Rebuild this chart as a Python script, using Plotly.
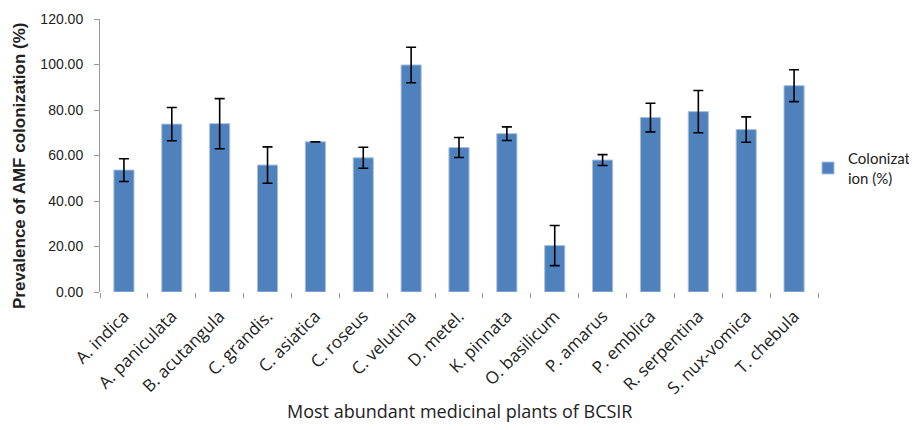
import plotly.graph_objects as go

plants = ["A. indica", "A. paniculata", "B. acutangula", "C. grandis.", "C. asiatica",
          "C. roseus", "C. velutina", "D. metel.", "K. pinnata", "O. basilicum",
          "P. amarus", "P. emblica", "R. serpentina", "S. nux-vomica", "T. chebula"]
colonization = [53.6, 73.8, 74.0, 55.8, 66.0, 59.0, 99.8, 63.5, 69.6, 20.4,
                 58.0, 76.7, 79.3, 71.4, 90.7]
error = [5.0, 7.3, 11.0, 8.0, 0.0, 4.6, 7.8, 4.4, 3.0, 8.8,
         2.4, 6.3, 9.3, 5.6, 7.0]
y_ticks = [0, 20, 40, 60, 80, 100, 120]
y_tick_labels = ["0.00", "20.00", "40.00", "60.00", "80.00", "100.00", "120.00"]

OFF = 8  # page body margin
W, H = 917 - OFF, 430 - OFF
L, T = 100 - OFF, 19 - OFF
R = 917 - 818
B = 430 - 292
pw, ph = 818 - 100, 292 - 19

fig = go.Figure()
fig.add_trace(go.Bar(
    x=plants, y=colonization, name="Colonizat<br>ion (%)",
    marker=dict(color="#4F81BD", line=dict(color="#A7C0DE", width=1)),
    width=0.42,
    error_y=dict(type="data", array=error, visible=True, color="black",
                 thickness=1.6, width=5),
))

fig.update_layout(
    width=W, height=H,
    margin=dict(l=L, r=R, t=T, b=B, autoexpand=False),
    paper_bgcolor="white", plot_bgcolor="white",
    font=dict(family="Liberation Sans, Arial, sans-serif", color="#222", size=12),
    showlegend=True,
    legend=dict(x=(808 - 100) / pw, y=(292 - 168) / ph, xanchor="left", yanchor="middle",
                font=dict(size=15, color="#222", family="Lato, sans-serif"),
                bgcolor="rgba(0,0,0,0)", itemwidth=30),
    xaxis=dict(
        tickangle=-45, tickson="boundaries", ticks="outside", ticklen=5,
        tickcolor="#999", showline=False, showgrid=False, automargin=False,
        ticklabelstandoff=10,
        tickfont=dict(size=17, color="#222", family="Open Sans, sans-serif"),
    ),
    yaxis=dict(
        range=[0, 120], tickvals=y_ticks, ticktext=y_tick_labels,
        ticks="outside", ticklen=5, tickcolor="#999", showline=True,
        linecolor="#999", linewidth=1, showgrid=False, zeroline=False,
        automargin=False, ticklabelstandoff=8,
        tickfont=dict(size=14, color="#222"),
    ),
    annotations=[
        dict(text="<b>Prevalence of AMF colonization (%)</b>", textangle=-90,
             xref="paper", yref="paper", x=(19 - 100) / pw, y=(292 - 166) / ph,
             xanchor="center", yanchor="middle", showarrow=False,
             font=dict(size=17, color="#222", family="Liberation Sans, Arial, sans-serif")),
        dict(text="Most abundant medicinal plants of BCSIR",
             xref="paper", yref="paper", x=(459 - 100) / pw, y=(292 - 411) / ph,
             xanchor="center", yanchor="middle", showarrow=False,
             font=dict(size=18, color="#222", family="Open Sans, sans-serif")),
    ],
)

fig.write_html("out.html")
